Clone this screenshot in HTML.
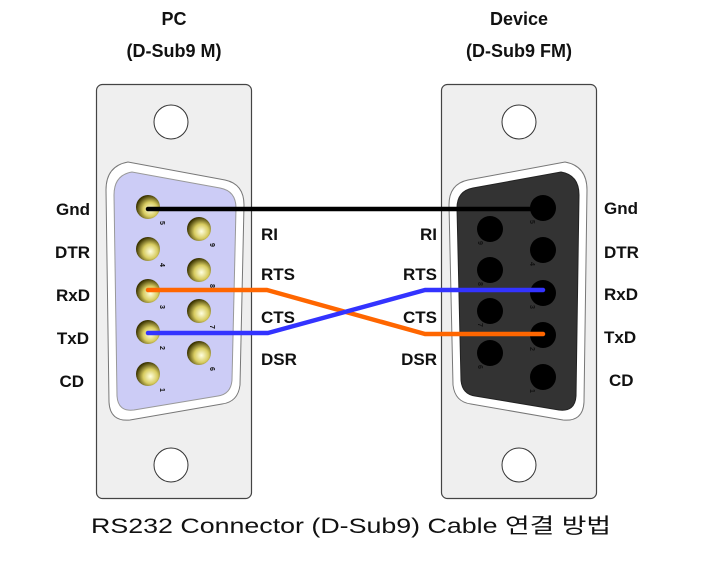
<!DOCTYPE html>
<html><head><meta charset="utf-8"><style>
html,body{margin:0;padding:0;background:#fff;}
svg text{font-family:"Liberation Sans","Noto Sans CJK KR",sans-serif;font-weight:bold;fill:#111;}
</style></head><body>
<svg width="703" height="560" viewBox="0 0 703 560" xmlns="http://www.w3.org/2000/svg">
<defs>
<radialGradient id="pin" cx="0.6" cy="0.6" r="0.6">
<stop offset="0" stop-color="#ffffe0"/><stop offset="0.5" stop-color="#d8cc60"/><stop offset="1" stop-color="#3a3300"/>
</radialGradient>
</defs>
<text x="174" y="25" font-size="18" text-anchor="middle">PC</text>
<text x="174" y="57" font-size="18" text-anchor="middle">(D-Sub9 M)</text>
<text x="519" y="25" font-size="18" text-anchor="middle">Device</text>
<text x="519" y="57" font-size="18" text-anchor="middle">(D-Sub9 FM)</text>
<rect x="96.5" y="84.5" width="155" height="414" rx="6" fill="#efefef" stroke="#444" stroke-width="1.2"/>
<rect x="441.5" y="84.5" width="155" height="414" rx="6" fill="#efefef" stroke="#444" stroke-width="1.2"/>
<circle cx="171" cy="122" r="17" fill="#fff" stroke="#333"/>
<circle cx="171" cy="465" r="17" fill="#fff" stroke="#333"/>
<circle cx="519" cy="122" r="17" fill="#fff" stroke="#333"/>
<circle cx="519" cy="465" r="17" fill="#fff" stroke="#333"/>
<path d="M106 190 Q106 166 128 162 L225 180 Q244 184 244 205 L240 385 Q238 402 222 404 L130 420 Q110 422 109 402 Z" fill="#fff" stroke="#777"/>
<path d="M114 195 Q114 175 132 172 L220 188 Q236 191 236 208 L232 380 Q231 394 218 396 L134 410 Q118 412 117 396 Z" fill="#ccccf6" stroke="#999"/>
<path d="M587 190 Q587 166 565 162 L468 180 Q449 184 449 205 L453 385 Q455 402 471 404 L563 420 Q583 422 584 402 Z" fill="#fff" stroke="#777"/>
<path d="M579 195 Q579 175 561 172 L473 188 Q457 191 457 208 L461 380 Q462 394 475 396 L559 410 Q575 412 576 396 Z" fill="#333" stroke="#222"/>
<g fill="url(#pin)">
<circle cx="148" cy="207" r="12"/><circle cx="148" cy="249" r="12"/><circle cx="148" cy="291" r="12"/><circle cx="148" cy="332" r="12"/><circle cx="148" cy="374" r="12"/>
<circle cx="199" cy="229" r="12"/><circle cx="199" cy="270" r="12"/><circle cx="199" cy="311" r="12"/><circle cx="199" cy="353" r="12"/>
</g>
<g font-size="7" fill="#222">
<text x="160" y="221" transform="rotate(90 160 221)">5</text>
<text x="160" y="263" transform="rotate(90 160 263)">4</text>
<text x="160" y="305" transform="rotate(90 160 305)">3</text>
<text x="160" y="346" transform="rotate(90 160 346)">2</text>
<text x="160" y="388" transform="rotate(90 160 388)">1</text>
<text x="210" y="243" transform="rotate(90 210 243)">9</text>
<text x="210" y="284" transform="rotate(90 210 284)">8</text>
<text x="210" y="325" transform="rotate(90 210 325)">7</text>
<text x="210" y="367" transform="rotate(90 210 367)">6</text>
</g>
<g fill="#000">
<circle cx="543" cy="208" r="13"/><circle cx="543" cy="250" r="13"/><circle cx="543" cy="293" r="13"/><circle cx="543" cy="335" r="13"/><circle cx="543" cy="377" r="13"/>
<circle cx="490" cy="229" r="13"/><circle cx="490" cy="270" r="13"/><circle cx="490" cy="311" r="13"/><circle cx="490" cy="353" r="13"/>
</g>
<g font-size="7" style="fill:#f4eea8">
<text x="530" y="220" transform="rotate(90 530 220)">5</text>
<text x="530" y="262" transform="rotate(90 530 262)">4</text>
<text x="530" y="305" transform="rotate(90 530 305)">3</text>
<text x="530" y="347" transform="rotate(90 530 347)">2</text>
<text x="530" y="389" transform="rotate(90 530 389)">1</text>
<text x="478" y="241" transform="rotate(90 478 241)">9</text>
<text x="478" y="282" transform="rotate(90 478 282)">8</text>
<text x="478" y="323" transform="rotate(90 478 323)">7</text>
<text x="478" y="365" transform="rotate(90 478 365)">6</text>
</g>
<g fill="none" stroke-width="4.5" stroke-linecap="round" stroke-linejoin="round">
<path d="M148 209 L543 209" stroke="#000"/>
<path d="M148 290 L267 290 L425 334 L543 334" stroke="#ff6600"/>
<path d="M148 333 L268 333 L425 290 L543 290" stroke="#3333ff"/>
</g>
<g font-size="17">
<text x="90" y="215" text-anchor="end">Gnd</text>
<text x="90" y="258" text-anchor="end">DTR</text>
<text x="90" y="301" text-anchor="end">RxD</text>
<text x="89" y="344" text-anchor="end">TxD</text>
<text x="84" y="387" text-anchor="end">CD</text>
<text x="604" y="214">Gnd</text>
<text x="604" y="258">DTR</text>
<text x="604" y="300">RxD</text>
<text x="604" y="343">TxD</text>
<text x="609" y="386">CD</text>
<text x="261" y="240">RI</text>
<text x="261" y="280">RTS</text>
<text x="261" y="323">CTS</text>
<text x="261" y="365">DSR</text>
<text x="437" y="240" text-anchor="end">RI</text>
<text x="437" y="280" text-anchor="end">RTS</text>
<text x="437" y="323" text-anchor="end">CTS</text>
<text x="437" y="365" text-anchor="end">DSR</text>
</g>
<text x="91" y="533" font-size="21" textLength="520" lengthAdjust="spacingAndGlyphs" style="font-weight:normal">RS232 Connector (D-Sub9) Cable 연결 방법</text>
</svg>
</body></html>
